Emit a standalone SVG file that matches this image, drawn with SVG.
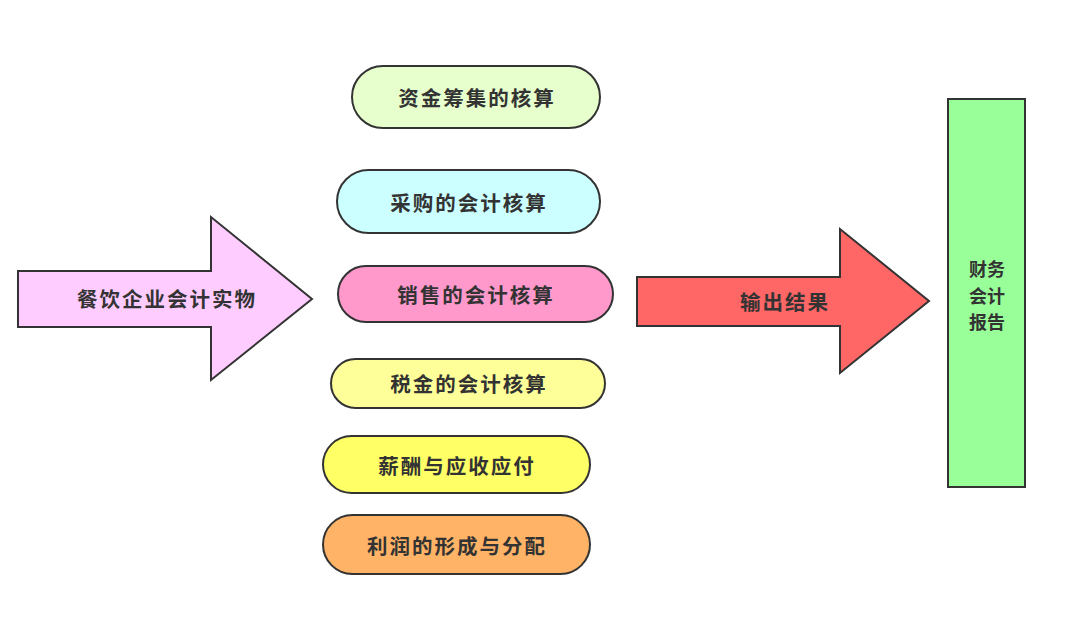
<svg xmlns="http://www.w3.org/2000/svg" width="1069" height="629" viewBox="0 0 1069 629">
<style>
.s{stroke:#333333;stroke-width:2}
.t{font-family:"Noto Sans CJK SC","Noto Sans",sans-serif;font-size:20.5px;font-weight:bold;fill:#333333;text-anchor:middle;dominant-baseline:central;letter-spacing:2px}
.r{font-family:"Noto Sans CJK SC","Noto Sans",sans-serif;font-size:18px;font-weight:bold;fill:#333333;text-anchor:middle;dominant-baseline:central}
</style>
<rect width="1069" height="629" fill="#ffffff"/>
<g id="connectors">
<g id="arrow-in">
<polygon class="s" fill="#ffccff" points="18,271 211,271 211,217 312,299 211,380 211,327 18,327"/>
<text class="t" x="167" y="298">餐饮企业会计实物</text>
</g>
<g id="arrow-out">
<polygon class="s" fill="#ff6666" points="637,277 840,277 840,229 929,301 840,373 840,326 637,326"/>
<text class="t" x="785" y="301">输出结果</text>
</g>
</g>
<g id="n1"><rect class="s" fill="#e6ffcc" x="352" y="66" width="248" height="62" rx="31"/><text class="t" x="477" y="97">资金筹集的核算</text></g>
<g id="n2"><rect class="s" fill="#ccffff" x="337" y="170" width="263" height="63" rx="31.5"/><text class="t" x="469" y="202">采购的会计核算</text></g>
<g id="n3"><rect class="s" fill="#ff99cc" x="338" y="266" width="275" height="56" rx="28"/><text class="t" x="476" y="294">销售的会计核算</text></g>
<g id="n4"><rect class="s" fill="#ffff99" x="331" y="359" width="274" height="49" rx="24.5"/><text class="t" x="469" y="383">税金的会计核算</text></g>
<g id="n5"><rect class="s" fill="#ffff66" x="323" y="436" width="267" height="57" rx="28.5"/><text class="t" x="457" y="465">薪酬与应收应付</text></g>
<g id="n6"><rect class="s" fill="#ffb366" x="323" y="515" width="267" height="59" rx="29.5"/><text class="t" x="457" y="545">利润的形成与分配</text></g>
<g id="report"><rect class="s" fill="#99ff99" x="948" y="99" width="77" height="388"/>
<text class="r" x="987" y="268"><tspan x="987" y="268">财务</tspan><tspan x="987" y="294.5">会计</tspan><tspan x="987" y="321">报告</tspan></text></g>
</svg>
